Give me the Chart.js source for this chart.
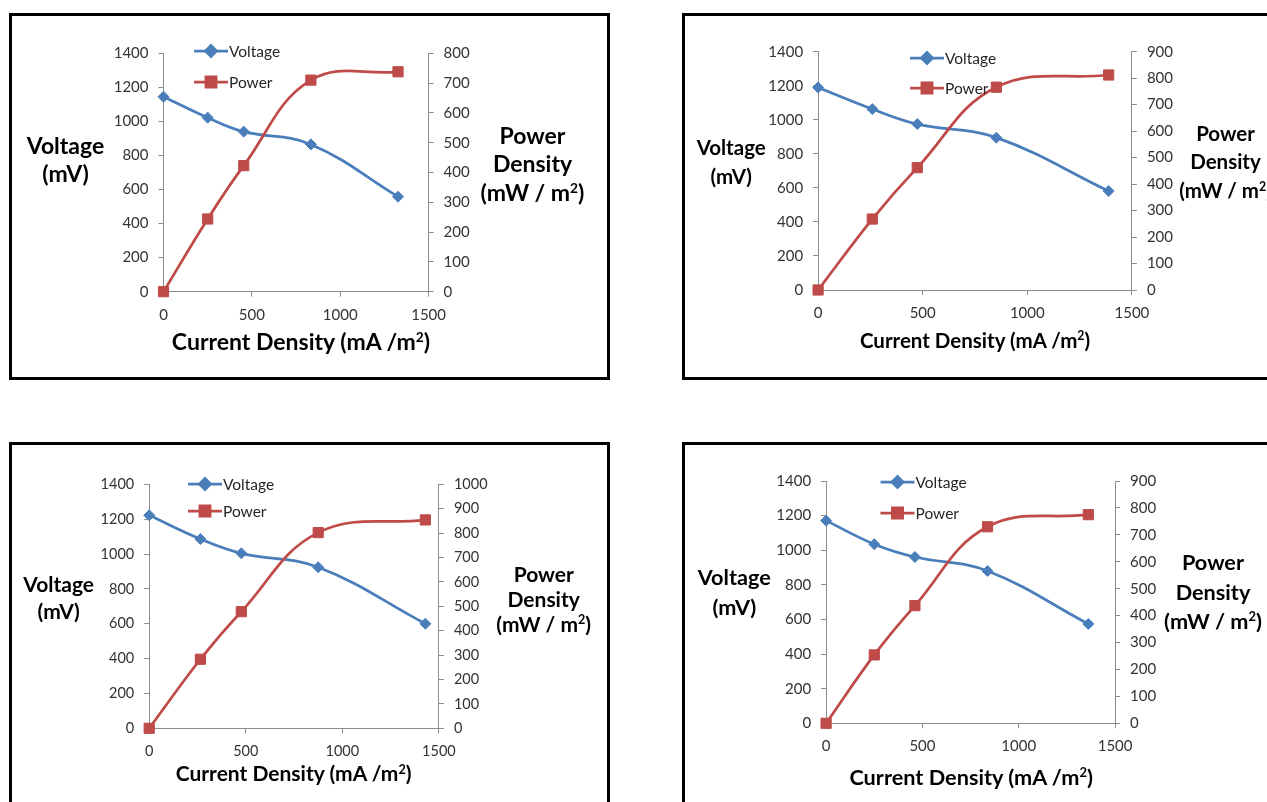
<!DOCTYPE html>
<html>
<head>
<meta charset="utf-8">
<script src="https://cdn.jsdelivr.net/npm/chart.js@4.4.1/dist/chart.umd.min.js"></script>
<style>
  body { margin: 0; width: 1267px; height: 802px; overflow: hidden; background: #fff; position: relative; font-family: Lato, "Open Sans", sans-serif; }
  canvas { position: absolute; }
  .frame { position: absolute; border: 3px solid #000; box-sizing: border-box; pointer-events: none; }
  .ttl { position: absolute; font-weight: bold; text-align: center; white-space: nowrap; color: #000; transform: translate(-50%, -50%); }
  .ttl sup { font-size: 0.6em; vertical-align: 0.6em; line-height: 0; }
</style>
</head>
<body>
<script>
// top left
const currentA = [0, 250, 454, 834, 1327]
const voltageA = [1145, 1022, 940, 865, 558]
const powerA = [0, 244, 423, 710, 738]
// top right
const currentB = [0, 259, 474, 852, 1389]
const voltageB = [1190, 1063, 975, 895, 581]
const powerB = [0, 268, 462, 766, 812]
// bottom left
const currentC = [0, 265, 477, 875, 1430]
const voltageC = [1222, 1086, 1004, 924, 600]
const powerC = [0, 283, 478, 802, 854]
// bottom right
const currentD = [0, 250, 461, 838, 1361]
const voltageD = [1171, 1035, 961, 880, 574]
const powerD = [0, 254, 437, 730, 775]

const xTicks = [0, 500, 1000, 1500]
const voltageTicks = [0, 200, 400, 600, 800, 1000, 1200, 1400]
const powerMaxA = 800
const powerMaxB = 900
const powerMaxC = 1000
const powerMaxD = 900

const seriesNames = ["Voltage", "Power"]

const BLUE = "#4a7ebb"
const RED = "#be4b48"
const AXIS = "#8c8c8c"

// layout of each panel on the page
const panels = [
  { current: currentA, voltage: voltageA, power: powerA, powerMax: powerMaxA,
    frame: [9, 13, 601, 367], plot: [163.5, 53.3, 428.6, 291.7], legend: [194, 51, 82],
    yTitle: [65.5, 159, 28], pTitle: [532.5, 163.5, 28.5], xTitle: [301, 342], font: 23, tick: 15 },
  { current: currentB, voltage: voltageB, power: powerB, powerMax: powerMaxB,
    frame: [682, 13, 620, 367], plot: [818.1, 51.7, 1131.9, 290], legend: [910, 58, 88],
    yTitle: [731.2, 161.5, 29], pTitle: [1225.5, 161.5, 28.5], xTitle: [975, 340], font: 20.5, tick: 15 },
  { current: currentC, voltage: voltageC, power: powerC, powerMax: powerMaxC,
    frame: [9, 442, 601, 380], plot: [149.2, 484.3, 438.9, 728.3], legend: [188, 484, 511],
    yTitle: [58.7, 598.3, 26.7], pTitle: [543.7, 597.7, 25], xTitle: [293.6, 773], font: 21, tick: 14.5 },
  { current: currentD, voltage: voltageD, power: powerD, powerMax: powerMaxD,
    frame: [682, 442, 620, 380], plot: [826.1, 481, 1115.1, 723.3], legend: [880.5, 482, 513],
    yTitle: [734.3, 591.7, 30], pTitle: [1213, 592.4, 29.3], xTitle: [971.2, 776.7], font: 21.7, tick: 15 },
]

const AXIS_W = 70
const AXIS_H = 40

const cornerLegend = {
  id: "cornerLegend",
  afterDatasetsDraw(chart, args, opts) {
    const ctx = chart.ctx
    chart.data.datasets.forEach((ds, i) => {
      const y = opts.ys[i]
      ctx.save()
      ctx.strokeStyle = ds.borderColor
      ctx.fillStyle = ds.backgroundColor
      ctx.lineWidth = ds.borderWidth
      ctx.beginPath()
      ctx.moveTo(opts.x, y)
      ctx.lineTo(opts.x + 34, y)
      ctx.stroke()
      Chart.helpers.drawPoint(ctx, { pointStyle: ds.pointStyle, radius: ds.pointRadius, borderWidth: 1 }, opts.x + 17, y)
      ctx.fillStyle = "#262626"
      ctx.font = "15.5px Lato, sans-serif"
      ctx.textBaseline = "middle"
      ctx.fillText(ds.label, opts.x + 35, y + 1)
      ctx.restore()
    })
  }
}

function addTitle(html, x, y, size, lh) {
  const d = document.createElement("div")
  d.className = "ttl"
  d.innerHTML = html
  d.style.left = x + "px"
  d.style.top = y + "px"
  d.style.fontSize = size + "px"
  d.style.lineHeight = lh + "px"
  document.body.appendChild(d)
}

panels.forEach((p) => {
  const [fx, fy, fw, fh] = p.frame
  const [L, T, R, B] = p.plot
  const canvas = document.createElement("canvas")
  canvas.width = fw
  canvas.height = fh
  canvas.style.left = fx + "px"
  canvas.style.top = fy + "px"
  document.body.appendChild(canvas)

  const tickFont = { size: p.tick, family: "Lato, sans-serif" }
  const plain = (v) => String(v)
  const axisCommon = {
    grid: { display: true, drawOnChartArea: false, drawTicks: true, tickLength: 5, color: AXIS },
    border: { display: true, color: AXIS, width: 1 },
  }

  new Chart(canvas.getContext("2d"), {
    type: "line",
    data: {
      datasets: [
        {
          label: seriesNames[0],
          data: p.current.map((c, i) => ({ x: c, y: p.voltage[i] })),
          yAxisID: "y",
          borderColor: BLUE,
          backgroundColor: BLUE,
          borderWidth: 2.75,
          pointStyle: "rectRot",
          pointRadius: 5.5,
          pointBorderWidth: 1,
          tension: 0.4,
          clip: false,
          order: 1,
        },
        {
          label: seriesNames[1],
          data: p.current.map((c, i) => ({ x: c, y: p.power[i] })),
          yAxisID: "y1",
          borderColor: RED,
          backgroundColor: RED,
          borderWidth: 2.75,
          pointStyle: "rect",
          pointRadius: 7.2,
          pointBorderWidth: 1,
          tension: 0.4,
          clip: false,
          order: 0,
        },
      ],
    },
    options: {
      responsive: false,
      animation: false,
      devicePixelRatio: 1,
      layout: {
        padding: {
          left: L - fx - AXIS_W,
          top: T - fy,
          right: fx + fw - R - AXIS_W,
          bottom: fy + fh - B - AXIS_H,
        },
      },
      plugins: {
        legend: { display: false },
        tooltip: { enabled: false },
        cornerLegend: { x: p.legend[0] - fx, ys: [p.legend[1] - fy, p.legend[2] - fy] },
      },
      scales: {
        x: {
          type: "linear",
          min: xTicks[0],
          max: xTicks[xTicks.length - 1],
          ...axisCommon,
          ticks: { stepSize: xTicks[1] - xTicks[0], padding: 9, color: "#333", font: tickFont, maxRotation: 0, callback: plain },
          afterFit: (s) => { s.height = AXIS_H },
        },
        y: {
          position: "left",
          min: voltageTicks[0],
          max: voltageTicks[voltageTicks.length - 1],
          ...axisCommon,
          ticks: { stepSize: voltageTicks[1] - voltageTicks[0], padding: 10, color: "#333", font: tickFont, callback: plain },
          afterFit: (s) => { s.width = AXIS_W },
        },
        y1: {
          position: "right",
          min: 0,
          max: p.powerMax,
          ...axisCommon,
          ticks: { stepSize: 100, padding: 10, color: "#333", font: tickFont, callback: plain },
          afterFit: (s) => { s.width = AXIS_W },
        },
      },
    },
    plugins: [cornerLegend],
  })

  const frame = document.createElement("div")
  frame.className = "frame"
  frame.style.left = fx + "px"
  frame.style.top = fy + "px"
  frame.style.width = fw + "px"
  frame.style.height = fh + "px"
  document.body.appendChild(frame)

  addTitle("Voltage<br>(mV)", p.yTitle[0], p.yTitle[1], p.font, p.yTitle[2])
  addTitle("Power<br>Density<br>(mW / m<sup>2</sup>)", p.pTitle[0], p.pTitle[1], p.font, p.pTitle[2])
  addTitle("Current Density (mA /m<sup>2</sup>)", p.xTitle[0], p.xTitle[1], p.font, p.font * 1.2)
})
</script>
</body>
</html>
